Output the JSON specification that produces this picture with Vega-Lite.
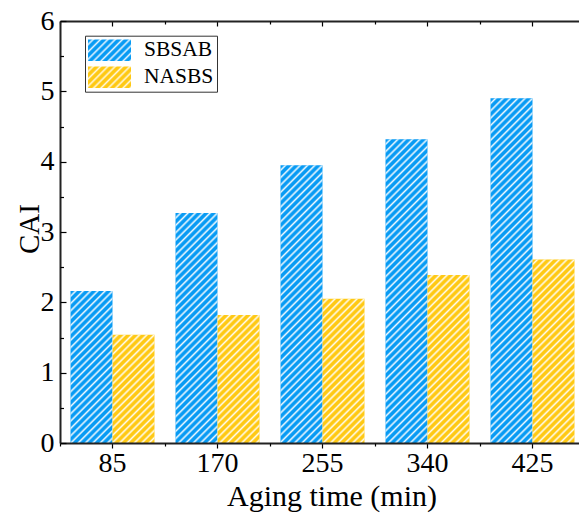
{
  "$schema": "https://vega.github.io/schema/vega-lite/v6.json",
  "autosize": "none",
  "width": 519,
  "height": 422,
  "padding": {"left": 60, "top": 21, "right": 0, "bottom": 70},
  "background": "white",
  "params": [
    {"name": "hatch", "value": [
      {"offset":0,"color":"#fff0"},{"offset":0.0063,"color":"#fff0"},{"offset":0.0109,"color":"#fffe"},
      {"offset":0.0156,"color":"#fff0"},{"offset":0.0219,"color":"#fff0"},{"offset":0.0266,"color":"#fffe"},
      {"offset":0.0313,"color":"#fff0"},{"offset":0.0375,"color":"#fff0"},{"offset":0.0422,"color":"#fffe"},
      {"offset":0.0469,"color":"#fff0"},{"offset":0.0531,"color":"#fff0"},{"offset":0.0578,"color":"#fffe"},
      {"offset":0.0625,"color":"#fff0"},{"offset":0.0688,"color":"#fff0"},{"offset":0.0734,"color":"#fffe"},
      {"offset":0.0781,"color":"#fff0"},{"offset":0.0844,"color":"#fff0"},{"offset":0.0891,"color":"#fffe"},
      {"offset":0.0938,"color":"#fff0"},{"offset":0.1,"color":"#fff0"},{"offset":0.1047,"color":"#fffe"},
      {"offset":0.1094,"color":"#fff0"},{"offset":0.1156,"color":"#fff0"},{"offset":0.1203,"color":"#fffe"},
      {"offset":0.125,"color":"#fff0"},{"offset":0.1313,"color":"#fff0"},{"offset":0.1359,"color":"#fffe"},
      {"offset":0.1406,"color":"#fff0"},{"offset":0.1469,"color":"#fff0"},{"offset":0.1516,"color":"#fffe"},
      {"offset":0.1563,"color":"#fff0"},{"offset":0.1625,"color":"#fff0"},{"offset":0.1672,"color":"#fffe"},
      {"offset":0.1719,"color":"#fff0"},{"offset":0.1781,"color":"#fff0"},{"offset":0.1828,"color":"#fffe"},
      {"offset":0.1875,"color":"#fff0"},{"offset":0.1938,"color":"#fff0"},{"offset":0.1984,"color":"#fffe"},
      {"offset":0.2031,"color":"#fff0"},{"offset":0.2094,"color":"#fff0"},{"offset":0.2141,"color":"#fffe"},
      {"offset":0.2188,"color":"#fff0"},{"offset":0.225,"color":"#fff0"},{"offset":0.2297,"color":"#fffe"},
      {"offset":0.2344,"color":"#fff0"},{"offset":0.2406,"color":"#fff0"},{"offset":0.2453,"color":"#fffe"},
      {"offset":0.25,"color":"#fff0"},{"offset":0.2563,"color":"#fff0"},{"offset":0.2609,"color":"#fffe"},
      {"offset":0.2656,"color":"#fff0"},{"offset":0.2719,"color":"#fff0"},{"offset":0.2766,"color":"#fffe"},
      {"offset":0.2813,"color":"#fff0"},{"offset":0.2875,"color":"#fff0"},{"offset":0.2922,"color":"#fffe"},
      {"offset":0.2969,"color":"#fff0"},{"offset":0.3031,"color":"#fff0"},{"offset":0.3078,"color":"#fffe"},
      {"offset":0.3125,"color":"#fff0"},{"offset":0.3188,"color":"#fff0"},{"offset":0.3234,"color":"#fffe"},
      {"offset":0.3281,"color":"#fff0"},{"offset":0.3344,"color":"#fff0"},{"offset":0.3391,"color":"#fffe"},
      {"offset":0.3438,"color":"#fff0"},{"offset":0.35,"color":"#fff0"},{"offset":0.3547,"color":"#fffe"},
      {"offset":0.3594,"color":"#fff0"},{"offset":0.3656,"color":"#fff0"},{"offset":0.3703,"color":"#fffe"},
      {"offset":0.375,"color":"#fff0"},{"offset":0.3813,"color":"#fff0"},{"offset":0.3859,"color":"#fffe"},
      {"offset":0.3906,"color":"#fff0"},{"offset":0.3969,"color":"#fff0"},{"offset":0.4016,"color":"#fffe"},
      {"offset":0.4063,"color":"#fff0"},{"offset":0.4125,"color":"#fff0"},{"offset":0.4172,"color":"#fffe"},
      {"offset":0.4219,"color":"#fff0"},{"offset":0.4281,"color":"#fff0"},{"offset":0.4328,"color":"#fffe"},
      {"offset":0.4375,"color":"#fff0"},{"offset":0.4438,"color":"#fff0"},{"offset":0.4484,"color":"#fffe"},
      {"offset":0.4531,"color":"#fff0"},{"offset":0.4594,"color":"#fff0"},{"offset":0.4641,"color":"#fffe"},
      {"offset":0.4688,"color":"#fff0"},{"offset":0.475,"color":"#fff0"},{"offset":0.4797,"color":"#fffe"},
      {"offset":0.4844,"color":"#fff0"},{"offset":0.4906,"color":"#fff0"},{"offset":0.4953,"color":"#fffe"},
      {"offset":0.5,"color":"#fff0"},{"offset":0.5063,"color":"#fff0"},{"offset":0.5109,"color":"#fffe"},
      {"offset":0.5156,"color":"#fff0"},{"offset":0.5219,"color":"#fff0"},{"offset":0.5266,"color":"#fffe"},
      {"offset":0.5313,"color":"#fff0"},{"offset":0.5375,"color":"#fff0"},{"offset":0.5422,"color":"#fffe"},
      {"offset":0.5469,"color":"#fff0"},{"offset":0.5531,"color":"#fff0"},{"offset":0.5578,"color":"#fffe"},
      {"offset":0.5625,"color":"#fff0"},{"offset":0.5688,"color":"#fff0"},{"offset":0.5734,"color":"#fffe"},
      {"offset":0.5781,"color":"#fff0"},{"offset":0.5844,"color":"#fff0"},{"offset":0.5891,"color":"#fffe"},
      {"offset":0.5938,"color":"#fff0"},{"offset":0.6,"color":"#fff0"},{"offset":0.6047,"color":"#fffe"},
      {"offset":0.6094,"color":"#fff0"},{"offset":0.6156,"color":"#fff0"},{"offset":0.6203,"color":"#fffe"},
      {"offset":0.625,"color":"#fff0"},{"offset":0.6313,"color":"#fff0"},{"offset":0.6359,"color":"#fffe"},
      {"offset":0.6406,"color":"#fff0"},{"offset":0.6469,"color":"#fff0"},{"offset":0.6516,"color":"#fffe"},
      {"offset":0.6563,"color":"#fff0"},{"offset":0.6625,"color":"#fff0"},{"offset":0.6672,"color":"#fffe"},
      {"offset":0.6719,"color":"#fff0"},{"offset":0.6781,"color":"#fff0"},{"offset":0.6828,"color":"#fffe"},
      {"offset":0.6875,"color":"#fff0"},{"offset":0.6938,"color":"#fff0"},{"offset":0.6984,"color":"#fffe"},
      {"offset":0.7031,"color":"#fff0"},{"offset":0.7094,"color":"#fff0"},{"offset":0.7141,"color":"#fffe"},
      {"offset":0.7188,"color":"#fff0"},{"offset":0.725,"color":"#fff0"},{"offset":0.7297,"color":"#fffe"},
      {"offset":0.7344,"color":"#fff0"},{"offset":0.7406,"color":"#fff0"},{"offset":0.7453,"color":"#fffe"},
      {"offset":0.75,"color":"#fff0"},{"offset":0.7563,"color":"#fff0"},{"offset":0.7609,"color":"#fffe"},
      {"offset":0.7656,"color":"#fff0"},{"offset":0.7719,"color":"#fff0"},{"offset":0.7766,"color":"#fffe"},
      {"offset":0.7813,"color":"#fff0"},{"offset":0.7875,"color":"#fff0"},{"offset":0.7922,"color":"#fffe"},
      {"offset":0.7969,"color":"#fff0"},{"offset":0.8031,"color":"#fff0"},{"offset":0.8078,"color":"#fffe"},
      {"offset":0.8125,"color":"#fff0"},{"offset":0.8188,"color":"#fff0"},{"offset":0.8234,"color":"#fffe"},
      {"offset":0.8281,"color":"#fff0"},{"offset":0.8344,"color":"#fff0"},{"offset":0.8391,"color":"#fffe"},
      {"offset":0.8438,"color":"#fff0"},{"offset":0.85,"color":"#fff0"},{"offset":0.8547,"color":"#fffe"},
      {"offset":0.8594,"color":"#fff0"}
    ]},
    {"name": "hatchB", "value": [
      {"offset":0,"color":"#089BF4"},{"offset":0.0063,"color":"#089BF4"},{"offset":0.0109,"color":"#E3F3FE"},
      {"offset":0.0156,"color":"#089BF4"},{"offset":0.0219,"color":"#089BF4"},{"offset":0.0266,"color":"#E3F3FE"},
      {"offset":0.0313,"color":"#089BF4"},{"offset":0.0375,"color":"#089BF4"},{"offset":0.0422,"color":"#E3F3FE"},
      {"offset":0.0469,"color":"#089BF4"},{"offset":0.0531,"color":"#089BF4"},{"offset":0.0578,"color":"#E3F3FE"},
      {"offset":0.0625,"color":"#089BF4"},{"offset":0.0688,"color":"#089BF4"},{"offset":0.0734,"color":"#E3F3FE"},
      {"offset":0.0781,"color":"#089BF4"},{"offset":0.0844,"color":"#089BF4"},{"offset":0.0891,"color":"#E3F3FE"},
      {"offset":0.0938,"color":"#089BF4"},{"offset":0.1,"color":"#089BF4"},{"offset":0.1047,"color":"#E3F3FE"},
      {"offset":0.1094,"color":"#089BF4"},{"offset":0.1156,"color":"#089BF4"},{"offset":0.1203,"color":"#E3F3FE"},
      {"offset":0.125,"color":"#089BF4"},{"offset":0.1313,"color":"#089BF4"},{"offset":0.1359,"color":"#E3F3FE"},
      {"offset":0.1406,"color":"#089BF4"},{"offset":0.1469,"color":"#089BF4"},{"offset":0.1516,"color":"#E3F3FE"},
      {"offset":0.1563,"color":"#089BF4"}
    ]},
    {"name": "hatchY", "value": [
      {"offset":0,"color":"#FFC914"},{"offset":0.0063,"color":"#FFC914"},{"offset":0.0109,"color":"#FFF7DC"},
      {"offset":0.0156,"color":"#FFC914"},{"offset":0.0219,"color":"#FFC914"},{"offset":0.0266,"color":"#FFF7DC"},
      {"offset":0.0313,"color":"#FFC914"},{"offset":0.0375,"color":"#FFC914"},{"offset":0.0422,"color":"#FFF7DC"},
      {"offset":0.0469,"color":"#FFC914"},{"offset":0.0531,"color":"#FFC914"},{"offset":0.0578,"color":"#FFF7DC"},
      {"offset":0.0625,"color":"#FFC914"},{"offset":0.0688,"color":"#FFC914"},{"offset":0.0734,"color":"#FFF7DC"},
      {"offset":0.0781,"color":"#FFC914"},{"offset":0.0844,"color":"#FFC914"},{"offset":0.0891,"color":"#FFF7DC"},
      {"offset":0.0938,"color":"#FFC914"},{"offset":0.1,"color":"#FFC914"},{"offset":0.1047,"color":"#FFF7DC"},
      {"offset":0.1094,"color":"#FFC914"},{"offset":0.1156,"color":"#FFC914"},{"offset":0.1203,"color":"#FFF7DC"},
      {"offset":0.125,"color":"#FFC914"},{"offset":0.1313,"color":"#FFC914"},{"offset":0.1359,"color":"#FFF7DC"},
      {"offset":0.1406,"color":"#FFC914"},{"offset":0.1469,"color":"#FFC914"},{"offset":0.1516,"color":"#FFF7DC"},
      {"offset":0.1563,"color":"#FFC914"}
    ]}
  ],
  "data": {"values": [
    {"time": 85, "series": "SBSAB", "CAI": 2.16},
    {"time": 85, "series": "NASBS", "CAI": 1.54},
    {"time": 170, "series": "SBSAB", "CAI": 3.27},
    {"time": 170, "series": "NASBS", "CAI": 1.82},
    {"time": 255, "series": "SBSAB", "CAI": 3.95},
    {"time": 255, "series": "NASBS", "CAI": 2.05},
    {"time": 340, "series": "SBSAB", "CAI": 4.32},
    {"time": 340, "series": "NASBS", "CAI": 2.39},
    {"time": 425, "series": "SBSAB", "CAI": 4.90},
    {"time": 425, "series": "NASBS", "CAI": 2.61}
  ]},
  "resolve": {"axis": {"x": "independent", "y": "independent"}},
  "layer": [
    {
      "mark": {"type": "bar", "opacity": 0},
      "encoding": {
        "x": {"field": "time", "type": "ordinal", "axis": null},
        "xOffset": {"field": "series", "type": "nominal"},
        "y": {"field": "CAI", "type": "quantitative", "axis": null},
        "fill": {"field": "series", "type": "nominal",
          "scale": {"domain": ["SBSAB", "NASBS"], "range": [
            {"expr": "{gradient: 'linear', x1: 0, y1: 0, x2: 8.755, y2: 4.378, stops: hatchB}"},
            {"expr": "{gradient: 'linear', x1: 0, y1: 0, x2: 8.755, y2: 4.378, stops: hatchY}"}
          ]},
          "legend": {"title": null, "orient": "none", "legendX": 25, "legendY": 14.7, "direction": "vertical",
            "symbolType": "M-1,-0.5H1V0.5H-1Z", "symbolSize": 1849, "symbolStrokeWidth": 0, "clipHeight": 23, "rowPadding": 4,
            "padding": 3, "labelOffset": 13, "labelFont": "Liberation Serif", "labelFontSize": 21.5, "labelColor": "black",
            "strokeColor": "#333", "fillColor": "white", "symbolOpacity": 1}}
      }
    },
    {
      "mark": {"type": "bar"},
      "encoding": {
        "x": {"field": "time", "type": "ordinal",
          "scale": {"range": [0, 525], "paddingInner": 0, "paddingOuter": 0},
          "axis": {"orient": "bottom", "title": "Aging time (min)", "titleFontSize": 30, "titleX": 271.5, "titleY": 62.5, "titleBaseline": "alphabetic", "titleAlign": "center",
            "labelAngle": 0, "labelFontSize": 28, "labelPadding": 1, "ticks": true, "tickSize": 5, "tickWidth": 1.2,
            "domain": true, "domainColor": "#222", "domainWidth": 2, "zindex": 1}},
        "xOffset": {"field": "series", "type": "nominal", "scale": {"domain": ["SBSAB", "NASBS"], "paddingOuter": 0.25, "paddingInner": 0}},
        "y": {"field": "CAI", "type": "quantitative", "scale": {"domain": [0, 6], "nice": false},
          "axis": {"orient": "left", "title": "CAI", "values": [0, 1, 2, 3, 4, 5, 6], "ticks": false, "labelPadding": 6, "labelFontSize": 28,
            "domainColor": "#222", "domainWidth": 2, "titleFontSize": 29, "titleX": -21.7, "titleY": 207.5, "titleBaseline": "alphabetic", "titleAlign": "center", "zindex": 1}},
        "color": {"field": "series", "type": "nominal",
          "scale": {"domain": ["SBSAB", "NASBS"], "range": ["#089BF4", "#FFC914"]},
          "legend": null}
      }
    },
    {
      "mark": {"type": "bar", "fill": {"expr": "{gradient: 'linear', x1: 0, y1: 0, x2: 470.6*bandwidth('xOffset')/(pow(bandwidth('xOffset'),2)+pow(scale('y',0)-scale('y',datum.CAI),2)), y2: 470.6*(scale('y',0)-scale('y',datum.CAI))/(pow(bandwidth('xOffset'),2)+pow(scale('y',0)-scale('y',datum.CAI),2)), stops: hatch}"}},
      "encoding": {
        "x": {"field": "time", "type": "ordinal",
          "axis": {"orient": "bottom", "title": null, "tickBand": "extent", "labels": false, "domain": false, "ticks": true, "tickSize": 3, "tickWidth": 1.2, "zindex": 1}},
        "xOffset": {"field": "series", "type": "nominal"},
        "y": {"field": "CAI", "type": "quantitative",
          "axis": {"orient": "right", "offset": -519, "title": null, "values": [0, 1, 2, 3, 4, 5, 6], "labels": false, "domain": false, "ticks": true, "tickSize": 6, "tickWidth": 1.2, "zindex": 1}}
      }
    },
    {
      "mark": {"type": "bar", "opacity": 0},
      "encoding": {
        "x": {"field": "time", "type": "ordinal",
          "axis": {"orient": "bottom", "offset": -422, "title": null, "labels": false, "domain": true, "domainColor": "#222", "domainWidth": 2, "ticks": true, "tickSize": 5, "tickWidth": 1.2, "zindex": 1}},
        "xOffset": {"field": "series", "type": "nominal"},
        "y": {"field": "CAI", "type": "quantitative",
          "axis": {"orient": "right", "offset": -519, "title": null, "values": [0.5, 1.5, 2.5, 3.5, 4.5, 5.5], "labels": false, "domain": false, "ticks": true, "tickSize": 3.5, "tickWidth": 1.2, "zindex": 1}}
      }
    },
    {
      "mark": {"type": "bar", "opacity": 0},
      "encoding": {
        "x": {"field": "time", "type": "ordinal",
          "axis": {"orient": "bottom", "offset": -422, "title": null, "tickBand": "extent", "labels": false, "domain": false, "ticks": true, "tickSize": 3, "tickWidth": 1.2, "zindex": 1}},
        "xOffset": {"field": "series", "type": "nominal"},
        "y": {"field": "CAI", "type": "quantitative", "axis": null}
      }
    }
  ],
  "config": {
    "view": {"stroke": null},
    "font": "Liberation Serif",
    "axis": {"labelFont": "Liberation Serif", "titleFont": "Liberation Serif", "grid": false, "labelColor": "black", "titleColor": "black", "titleFontWeight": "normal", "tickColor": "black"}
  }
}
